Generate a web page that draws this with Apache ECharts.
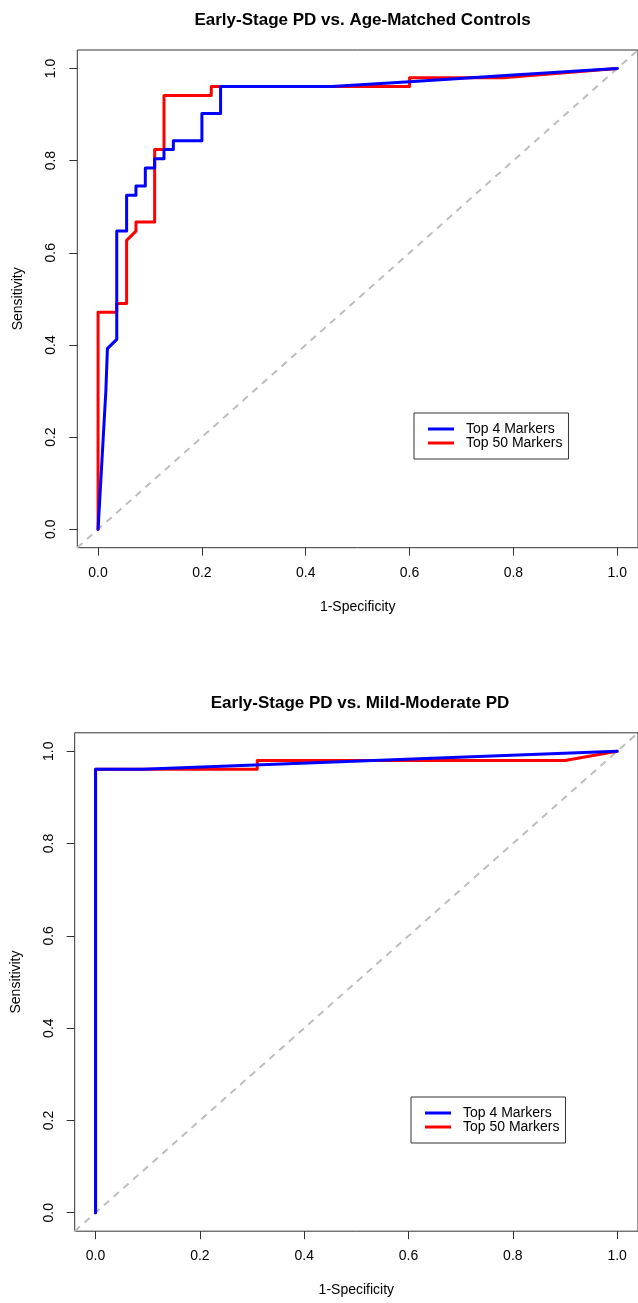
<!DOCTYPE html>
<html><head><meta charset="utf-8">
<script src="https://cdn.jsdelivr.net/npm/echarts@6/dist/echarts.min.js"></script>
<style>html,body{margin:0;padding:0;background:#fff}#c{width:638px;height:1303px}</style>
</head><body><div id="c"></div>
<script>
// ---- shared axis / label data ----
const tickValues = [0, 0.2, 0.4, 0.6, 0.8, 1.0];
const axisMin = -0.04;
const axisMax = 1.04;
const chanceLine = [-0.04, 1.04];
const seriesNames = ['Top 4 Markers', 'Top 50 Markers'];
const chartTitles = ['Early-Stage PD vs. Age-Matched Controls', 'Early-Stage PD vs. Mild-Moderate PD'];
const xAxisName = '1-Specificity';
const yAxisName = 'Sensitivity';

// ---- chart 1: Early-Stage PD vs. Age-Matched Controls ----
const c1Top4FPR = [0, 0.005, 0.010, 0.015, 0.018, 0.036, 0.036, 0.055, 0.055, 0.073, 0.073, 0.091, 0.091, 0.109, 0.109, 0.127, 0.127, 0.145, 0.145, 0.200, 0.200, 0.236, 0.236, 0.450, 0.600, 0.800, 1.0];
const c1Top4TPR = [0, 0.100, 0.200, 0.300, 0.392, 0.412, 0.647, 0.647, 0.725, 0.725, 0.745, 0.745, 0.784, 0.784, 0.804, 0.804, 0.824, 0.824, 0.843, 0.843, 0.902, 0.902, 0.961, 0.961, 0.971, 0.986, 1.0];
const c1Top50FPR = [0, 0, 0.036, 0.036, 0.055, 0.055, 0.073, 0.073, 0.109, 0.109, 0.127, 0.127, 0.218, 0.218, 0.600, 0.600, 0.780, 1.0];
const c1Top50TPR = [0, 0.471, 0.471, 0.490, 0.490, 0.627, 0.647, 0.667, 0.667, 0.824, 0.824, 0.941, 0.941, 0.961, 0.961, 0.980, 0.980, 1.0];

// ---- chart 2: Early-Stage PD vs. Mild-Moderate PD ----
const c2Top4FPR = [0, 0, 0.090, 1.0];
const c2Top4TPR = [0, 0.961, 0.961, 1.0];
const c2Top50FPR = [0, 0, 0.310, 0.310, 0.900, 1.0];
const c2Top50TPR = [0, 0.961, 0.961, 0.980, 0.980, 1.0];

const zip = (xs, ys) => xs.map((x, i) => [x, ys[i]]);
const FONT = 'Liberation Sans';
const BLUE = '#0000FF', RED = '#FF0000', BOX = '#333333';

const grids = [
  { left: 77.3, top: 50, width: 570.6, height: 497.7 },
  { left: 74.7, top: 732.8, width: 570.6, height: 498.4 }
];

function xAxisFor(i) {
  return {
    type: 'value', gridIndex: i, min: axisMin, max: axisMax, position: 'bottom',
    axisLine: { show: false, onZero: false }, splitLine: { show: false },
    axisTick: { show: true, customValues: tickValues, length: 8, inside: false, lineStyle: { color: BOX, width: 1 } },
    axisLabel: { customValues: tickValues, formatter: v => v.toFixed(1), margin: 18, fontSize: 14, color: '#000', fontFamily: FONT },
    name: xAxisName, nameLocation: 'middle', nameGap: 52,
    nameTextStyle: { fontSize: 14, color: '#000', fontFamily: FONT }
  };
}
function yAxisFor(i) {
  return {
    type: 'value', gridIndex: i, min: axisMin, max: axisMax, position: 'left',
    axisLine: { show: false, onZero: false }, splitLine: { show: false },
    axisTick: { show: true, customValues: tickValues, length: 8, inside: false, lineStyle: { color: BOX, width: 1 } },
    axisLabel: { customValues: tickValues, formatter: v => v.toFixed(1), margin: 19, rotate: 90, fontSize: 14, color: '#000', fontFamily: FONT },
    name: yAxisName, nameLocation: 'middle', nameGap: 52,
    nameTextStyle: { fontSize: 14, color: '#000', fontFamily: FONT }
  };
}
function rocSeries(name, color, i, data, z) {
  return {
    name, type: 'line', xAxisIndex: i, yAxisIndex: i, data,
    showSymbol: false, symbol: 'none', z, animation: false,
    color, itemStyle: { color },
    lineStyle: { color, width: 3, cap: 'round', join: 'round' }
  };
}
function chanceSeries(i) {
  return {
    name: 'chance', type: 'line', xAxisIndex: i, yAxisIndex: i,
    data: zip(chanceLine, chanceLine), showSymbol: false, symbol: 'none', z: 1,
    silent: true, animation: false,
    lineStyle: { color: '#BEBEBE', width: 2, type: [7, 6] }
  };
}
function legendFor(left, top) {
  return {
    left, top, orient: 'vertical', itemWidth: 26, itemHeight: 3, itemGap: 0,
    padding: [9, 6, 9, 14], borderColor: BOX, borderWidth: 1, backgroundColor: '#fff',
    icon: 'rect', data: seriesNames,
    textStyle: { fontSize: 14, lineHeight: 14, color: '#000', fontFamily: FONT, padding: [0, 0, 0, 7] }
  };
}

const chart = echarts.init(document.getElementById('c'), null, { renderer: 'canvas' });
chart.setOption({
  backgroundColor: '#fff',
  animation: false,
  title: [
    { text: chartTitles[0], left: 362.6, top: 11.5, textAlign: 'center', textVerticalAlign: 'top', padding: 0,
      textStyle: { fontSize: 17, fontWeight: 'bold', color: '#000', fontFamily: FONT } },
    { text: chartTitles[1], left: 360, top: 694.5, textAlign: 'center', textVerticalAlign: 'top', padding: 0,
      textStyle: { fontSize: 17, fontWeight: 'bold', color: '#000', fontFamily: FONT } }
  ],
  legend: [legendFor(414, 413), legendFor(411, 1097)],
  grid: grids.map(g => Object.assign({ show: true, borderColor: BOX, borderWidth: 1, backgroundColor: 'transparent', containLabel: false }, g)),
  xAxis: [xAxisFor(0), xAxisFor(1)],
  yAxis: [yAxisFor(0), yAxisFor(1)],
  series: [
    chanceSeries(0),
    rocSeries(seriesNames[1], RED, 0, zip(c1Top50FPR, c1Top50TPR), 2),
    rocSeries(seriesNames[0], BLUE, 0, zip(c1Top4FPR, c1Top4TPR), 3),
    chanceSeries(1),
    rocSeries(seriesNames[1], RED, 1, zip(c2Top50FPR, c2Top50TPR), 2),
    rocSeries(seriesNames[0], BLUE, 1, zip(c2Top4FPR, c2Top4TPR), 3)
  ]
});
</script></body></html>
